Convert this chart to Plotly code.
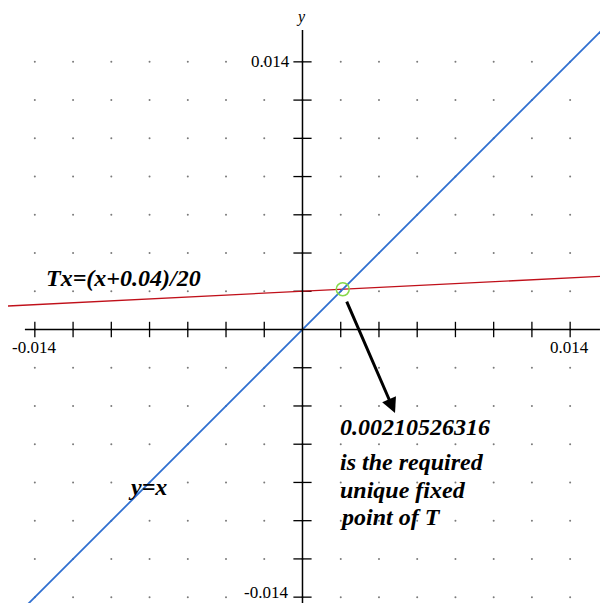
import plotly.graph_objects as go

# data
grid_vals = [-0.014, -0.012, -0.010, -0.008, -0.006, -0.004, -0.002, 0.0,
             0.002, 0.004, 0.006, 0.008, 0.010, 0.012, 0.014]
tick_vals = [v for v in grid_vals if v != 0.0]

line_x = [-0.0160, 0.0160]          # y = x
line_y = [-0.0160, 0.0160]
tx_x = [-0.0160, 0.0160]            # Tx = (x+0.04)/20
tx_y = [0.0012, 0.0028]
fixed_x = [0.00210526316]
fixed_y = [0.00210526316]

note_lines = ["is the required", "unique fixed", "point of T"]
note_y = [-0.00693, -0.00840, -0.00981]

serif = "Liberation Serif, Times New Roman, serif"

fig = go.Figure()

# dotted grid
gx = [x for x in grid_vals for y in grid_vals]
gy = [y for x in grid_vals for y in grid_vals]
fig.add_trace(go.Scatter(x=gx, y=gy, mode="markers",
                         marker=dict(size=2, color="#7a7a7a"), hoverinfo="skip"))

# axes
fig.add_shape(type="line", x0=-0.01452, x1=0.01556, y0=0, y1=0,
              line=dict(color="black", width=1.5))
fig.add_shape(type="line", x0=0, x1=0, y0=-0.0150, y1=0.01567,
              line=dict(color="black", width=1.5))

# cross ticks
fig.add_trace(go.Scatter(x=tick_vals, y=[0] * len(tick_vals), mode="markers",
                         marker=dict(symbol="line-ns-open", size=11, color="black",
                                     line=dict(color="black", width=1.3)),
                         hoverinfo="skip"))
fig.add_trace(go.Scatter(x=[0] * len(tick_vals), y=tick_vals, mode="markers",
                         marker=dict(symbol="line-ew-open", size=13, color="black",
                                     line=dict(color="black", width=1.3)),
                         hoverinfo="skip"))

# curves
fig.add_trace(go.Scatter(x=tx_x, y=tx_y, mode="lines",
                         line=dict(color="#c0101a", width=1.3)))
fig.add_trace(go.Scatter(x=line_x, y=line_y, mode="lines",
                         line=dict(color="#2f6fd0", width=1.8)))
fig.add_trace(go.Scatter(x=fixed_x, y=fixed_y, mode="markers",
                         marker=dict(symbol="circle-open", size=13, color="#86d84a",
                                     line=dict(color="#86d84a", width=1.5))))

# arrow to the fixed point note
fig.add_annotation(x=0.00484, y=-0.00437, ax=0.00228, ay=0.00154,
                   xref="x", yref="y", axref="x", ayref="y", text="",
                   showarrow=True, arrowhead=2, arrowsize=1, arrowwidth=3,
                   arrowcolor="black")

big = dict(family=serif, size=24, color="black")
fig.add_annotation(x=-0.00934, y=0.00269, text="<b><i>Tx=(x+0.04)/20</i></b>",
                   showarrow=False, font=big)
fig.add_annotation(x=-0.00813, y=-0.00824, text="<b><i>y=x</i></b>",
                   showarrow=False, font=big)
fig.add_annotation(x=0.00186, y=-0.0051, text="<b><i>0.00210526316</i></b>",
                   showarrow=False, font=big, xanchor="left", yanchor="middle")
for txt, yy in zip(note_lines, note_y):
    fig.add_annotation(x=0.00186, y=yy, text=f"<b><i>{txt}</i></b>",
                       showarrow=False, font=big, xanchor="left", yanchor="middle")

# tick labels
small = dict(family=serif, size=17, color="black")
fig.add_annotation(x=-0.01404, y=-0.00094, text="-0.014", showarrow=False, font=small)
fig.add_annotation(x=0.01396, y=-0.00094, text="0.014", showarrow=False, font=small)
fig.add_annotation(x=-0.00055, y=0.01404, text="0.014", showarrow=False, font=small,
                   xanchor="right")
fig.add_annotation(x=-0.00065, y=-0.01375, text="-0.014", showarrow=False, font=small,
                   xanchor="right")
fig.add_annotation(x=-0.0001, y=0.01635, text="<i>y</i>", showarrow=False,
                   font=dict(family=serif, size=16, color="black"))

# page body has an 8px margin, so the figure is 8px smaller and its ranges start 8px in
fig.update_layout(
    width=600, height=595,
    margin=dict(l=0, r=0, t=0, b=0),
    showlegend=False,
    plot_bgcolor="white", paper_bgcolor="white",
    xaxis=dict(range=[-0.015404, 0.01598], visible=False),
    yaxis=dict(range=[-0.014306, 0.016817], visible=False),
)

fig.write_html("out.html")
